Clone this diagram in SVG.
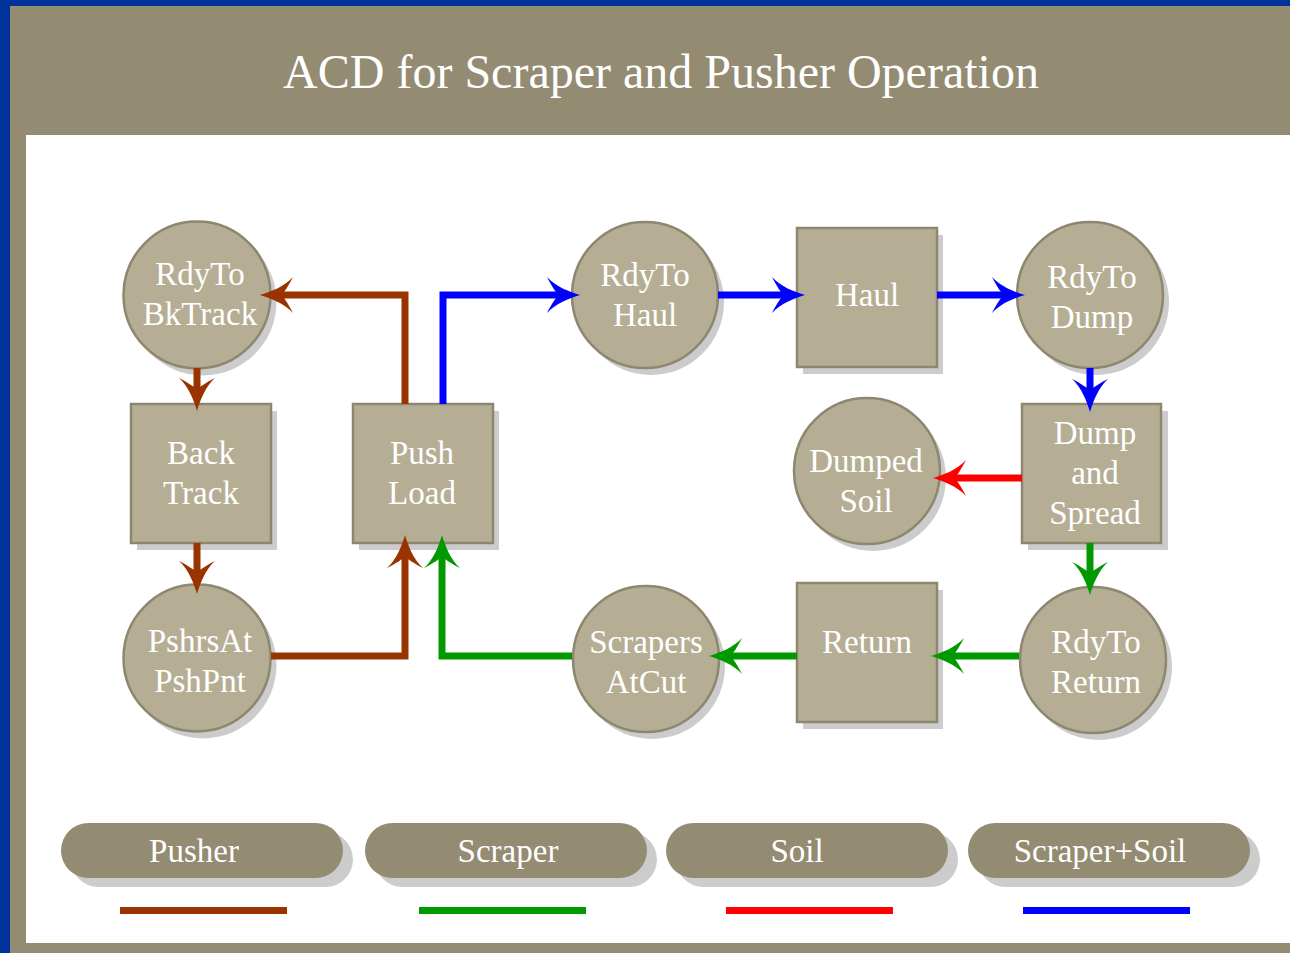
<svg xmlns="http://www.w3.org/2000/svg" width="1290" height="953" viewBox="0 0 1290 953">
  <style>
    .frame { fill: #938b72; }
    .node { fill: #b5ae94; stroke: #8e8770; stroke-width: 2.5; }
    .shadow { fill: #cccccc; }
    .label { font-family: "Liberation Serif", "Times New Roman", serif; font-size: 33px; fill: #ffffff; text-anchor: middle; }
    .title { font-family: "Liberation Serif", "Times New Roman", serif; font-size: 48px; fill: #ffffff; text-anchor: middle; }
    .pill { fill: #938b72; }
    .edge { fill: none; stroke-width: 7; }
    .pusher { stroke: #993300; }
    .scraper { stroke: #009900; }
    .soil { stroke: #ff0000; }
    .load { stroke: #0000ff; }
  </style>
  <defs>
    <marker id="ah-pusher" viewBox="-34 -18 36 36" markerWidth="36" markerHeight="36" markerUnits="userSpaceOnUse" refX="-20" refY="0" orient="auto">
      <path d="M0,0 C-10,-3 -24,-8 -33,-18 C-28,-8 -24,-3 -22,0 C-24,3 -28,8 -33,18 C-24,8 -10,3 0,0 Z" fill="#993300"/>
    </marker>
    <marker id="ah-scraper" viewBox="-34 -18 36 36" markerWidth="36" markerHeight="36" markerUnits="userSpaceOnUse" refX="-20" refY="0" orient="auto">
      <path d="M0,0 C-10,-3 -24,-8 -33,-18 C-28,-8 -24,-3 -22,0 C-24,3 -28,8 -33,18 C-24,8 -10,3 0,0 Z" fill="#009900"/>
    </marker>
    <marker id="ah-soil" viewBox="-34 -18 36 36" markerWidth="36" markerHeight="36" markerUnits="userSpaceOnUse" refX="-20" refY="0" orient="auto">
      <path d="M0,0 C-10,-3 -24,-8 -33,-18 C-28,-8 -24,-3 -22,0 C-24,3 -28,8 -33,18 C-24,8 -10,3 0,0 Z" fill="#ff0000"/>
    </marker>
    <marker id="ah-load" viewBox="-34 -18 36 36" markerWidth="36" markerHeight="36" markerUnits="userSpaceOnUse" refX="-20" refY="0" orient="auto">
      <path d="M0,0 C-10,-3 -24,-8 -33,-18 C-28,-8 -24,-3 -22,0 C-24,3 -28,8 -33,18 C-24,8 -10,3 0,0 Z" fill="#0000ff"/>
    </marker>
  </defs>

  <!-- page frame -->
  <rect x="0" y="0" width="1290" height="953" fill="#003399"/>
  <rect class="frame" x="10" y="6" width="1280" height="947"/>
  <rect x="26" y="135" width="1264" height="808" fill="#ffffff"/>
  <text class="title" x="661" y="88">ACD for Scraper and Pusher Operation</text>

  <!-- queues (circles) and activities (squares) -->
  <g id="rdyto-bktrack">
    <circle class="shadow" cx="203" cy="302" r="73.5"/>
    <circle class="node" cx="197" cy="295" r="73.5"/>
    <text class="label" x="200" y="285">RdyTo</text>
    <text class="label" x="200" y="325">BkTrack</text>
  </g>
  <g id="back-track">
    <rect class="shadow" x="137" y="411" width="140" height="139"/>
    <rect class="node" x="131" y="404" width="140" height="139"/>
    <text class="label" x="201" y="464">Back</text>
    <text class="label" x="201" y="504">Track</text>
  </g>
  <g id="pshrsat-pshpnt">
    <circle class="shadow" cx="203" cy="665" r="73.5"/>
    <circle class="node" cx="197" cy="658" r="73.5"/>
    <text class="label" x="200" y="652">PshrsAt</text>
    <text class="label" x="200" y="692">PshPnt</text>
  </g>
  <g id="push-load">
    <rect class="shadow" x="359" y="411" width="140" height="139"/>
    <rect class="node" x="353" y="404" width="140" height="139"/>
    <text class="label" x="422" y="464">Push</text>
    <text class="label" x="422" y="504">Load</text>
  </g>
  <g id="rdyto-haul">
    <circle class="shadow" cx="651" cy="302" r="73"/>
    <circle class="node" cx="645" cy="295" r="73"/>
    <text class="label" x="645" y="286">RdyTo</text>
    <text class="label" x="645" y="326">Haul</text>
  </g>
  <g id="haul">
    <rect class="shadow" x="803" y="235" width="140" height="139"/>
    <rect class="node" x="797" y="228" width="140" height="139"/>
    <text class="label" x="867" y="306">Haul</text>
  </g>
  <g id="rdyto-dump">
    <circle class="shadow" cx="1096" cy="302" r="73"/>
    <circle class="node" cx="1090" cy="295" r="73"/>
    <text class="label" x="1092" y="288">RdyTo</text>
    <text class="label" x="1092" y="328">Dump</text>
  </g>
  <g id="dump-and-spread">
    <rect class="shadow" x="1028" y="411" width="140" height="139"/>
    <rect class="node" x="1022" y="404" width="139" height="139"/>
    <text class="label" x="1095" y="444">Dump</text>
    <text class="label" x="1095" y="484">and</text>
    <text class="label" x="1095" y="524">Spread</text>
  </g>
  <g id="dumped-soil">
    <circle class="shadow" cx="873" cy="478" r="73"/>
    <circle class="node" cx="867" cy="471" r="73"/>
    <text class="label" x="866" y="472">Dumped</text>
    <text class="label" x="866" y="512">Soil</text>
  </g>
  <g id="rdyto-return">
    <circle class="shadow" cx="1099" cy="667" r="73"/>
    <circle class="node" cx="1093" cy="660" r="73"/>
    <text class="label" x="1096" y="653">RdyTo</text>
    <text class="label" x="1096" y="693">Return</text>
  </g>
  <g id="return">
    <rect class="shadow" x="803" y="590" width="140" height="139"/>
    <rect class="node" x="797" y="583" width="140" height="139"/>
    <text class="label" x="867" y="653">Return</text>
  </g>
  <g id="scrapers-atcut">
    <circle class="shadow" cx="652" cy="666" r="73"/>
    <circle class="node" cx="646" cy="659" r="73"/>
    <text class="label" x="646" y="653">Scrapers</text>
    <text class="label" x="646" y="693">AtCut</text>
  </g>

  <!-- flows between queues and activities -->
  <g id="connectors">
    <path class="edge pusher" d="M405,404 V295 H280" marker-end="url(#ah-pusher)"/>
    <path class="edge pusher" d="M197,368 V391" marker-end="url(#ah-pusher)"/>
    <path class="edge pusher" d="M197,543 V574" marker-end="url(#ah-pusher)"/>
    <path class="edge pusher" d="M271,656 H405 V555" marker-end="url(#ah-pusher)"/>
    <path class="edge scraper" d="M572,656 H442 V555" marker-end="url(#ah-scraper)"/>
    <path class="edge scraper" d="M797,656 H729" marker-end="url(#ah-scraper)"/>
    <path class="edge scraper" d="M1019,656 H951" marker-end="url(#ah-scraper)"/>
    <path class="edge scraper" d="M1090,543 V575" marker-end="url(#ah-scraper)"/>
    <path class="edge load" d="M443,404 V295 H560" marker-end="url(#ah-load)"/>
    <path class="edge load" d="M718,295 H785" marker-end="url(#ah-load)"/>
    <path class="edge load" d="M937,295 H1005" marker-end="url(#ah-load)"/>
    <path class="edge load" d="M1090,368 V392" marker-end="url(#ah-load)"/>
    <path class="edge soil" d="M1022,478 H953" marker-end="url(#ah-soil)"/>
  </g>

  <!-- legend -->
  <g id="legend-pusher">
    <rect class="shadow" x="71" y="832" width="282" height="55" rx="27.5"/>
    <rect class="pill" x="61" y="823" width="282" height="55" rx="27.5"/>
    <text class="label" x="194" y="862">Pusher</text>
    <rect x="120" y="907" width="167" height="7" fill="#993300"/>
  </g>
  <g id="legend-scraper">
    <rect class="shadow" x="375" y="832" width="282" height="55" rx="27.5"/>
    <rect class="pill" x="365" y="823" width="282" height="55" rx="27.5"/>
    <text class="label" x="508" y="862">Scraper</text>
    <rect x="419" y="907" width="167" height="7" fill="#009900"/>
  </g>
  <g id="legend-soil">
    <rect class="shadow" x="676" y="832" width="282" height="55" rx="27.5"/>
    <rect class="pill" x="666" y="823" width="282" height="55" rx="27.5"/>
    <text class="label" x="797" y="862">Soil</text>
    <rect x="726" y="907" width="167" height="7" fill="#ff0000"/>
  </g>
  <g id="legend-scraper-soil">
    <rect class="shadow" x="978" y="832" width="282" height="55" rx="27.5"/>
    <rect class="pill" x="968" y="823" width="282" height="55" rx="27.5"/>
    <text class="label" x="1100" y="862">Scraper+Soil</text>
    <rect x="1023" y="907" width="167" height="7" fill="#0000ff"/>
  </g>
</svg>
